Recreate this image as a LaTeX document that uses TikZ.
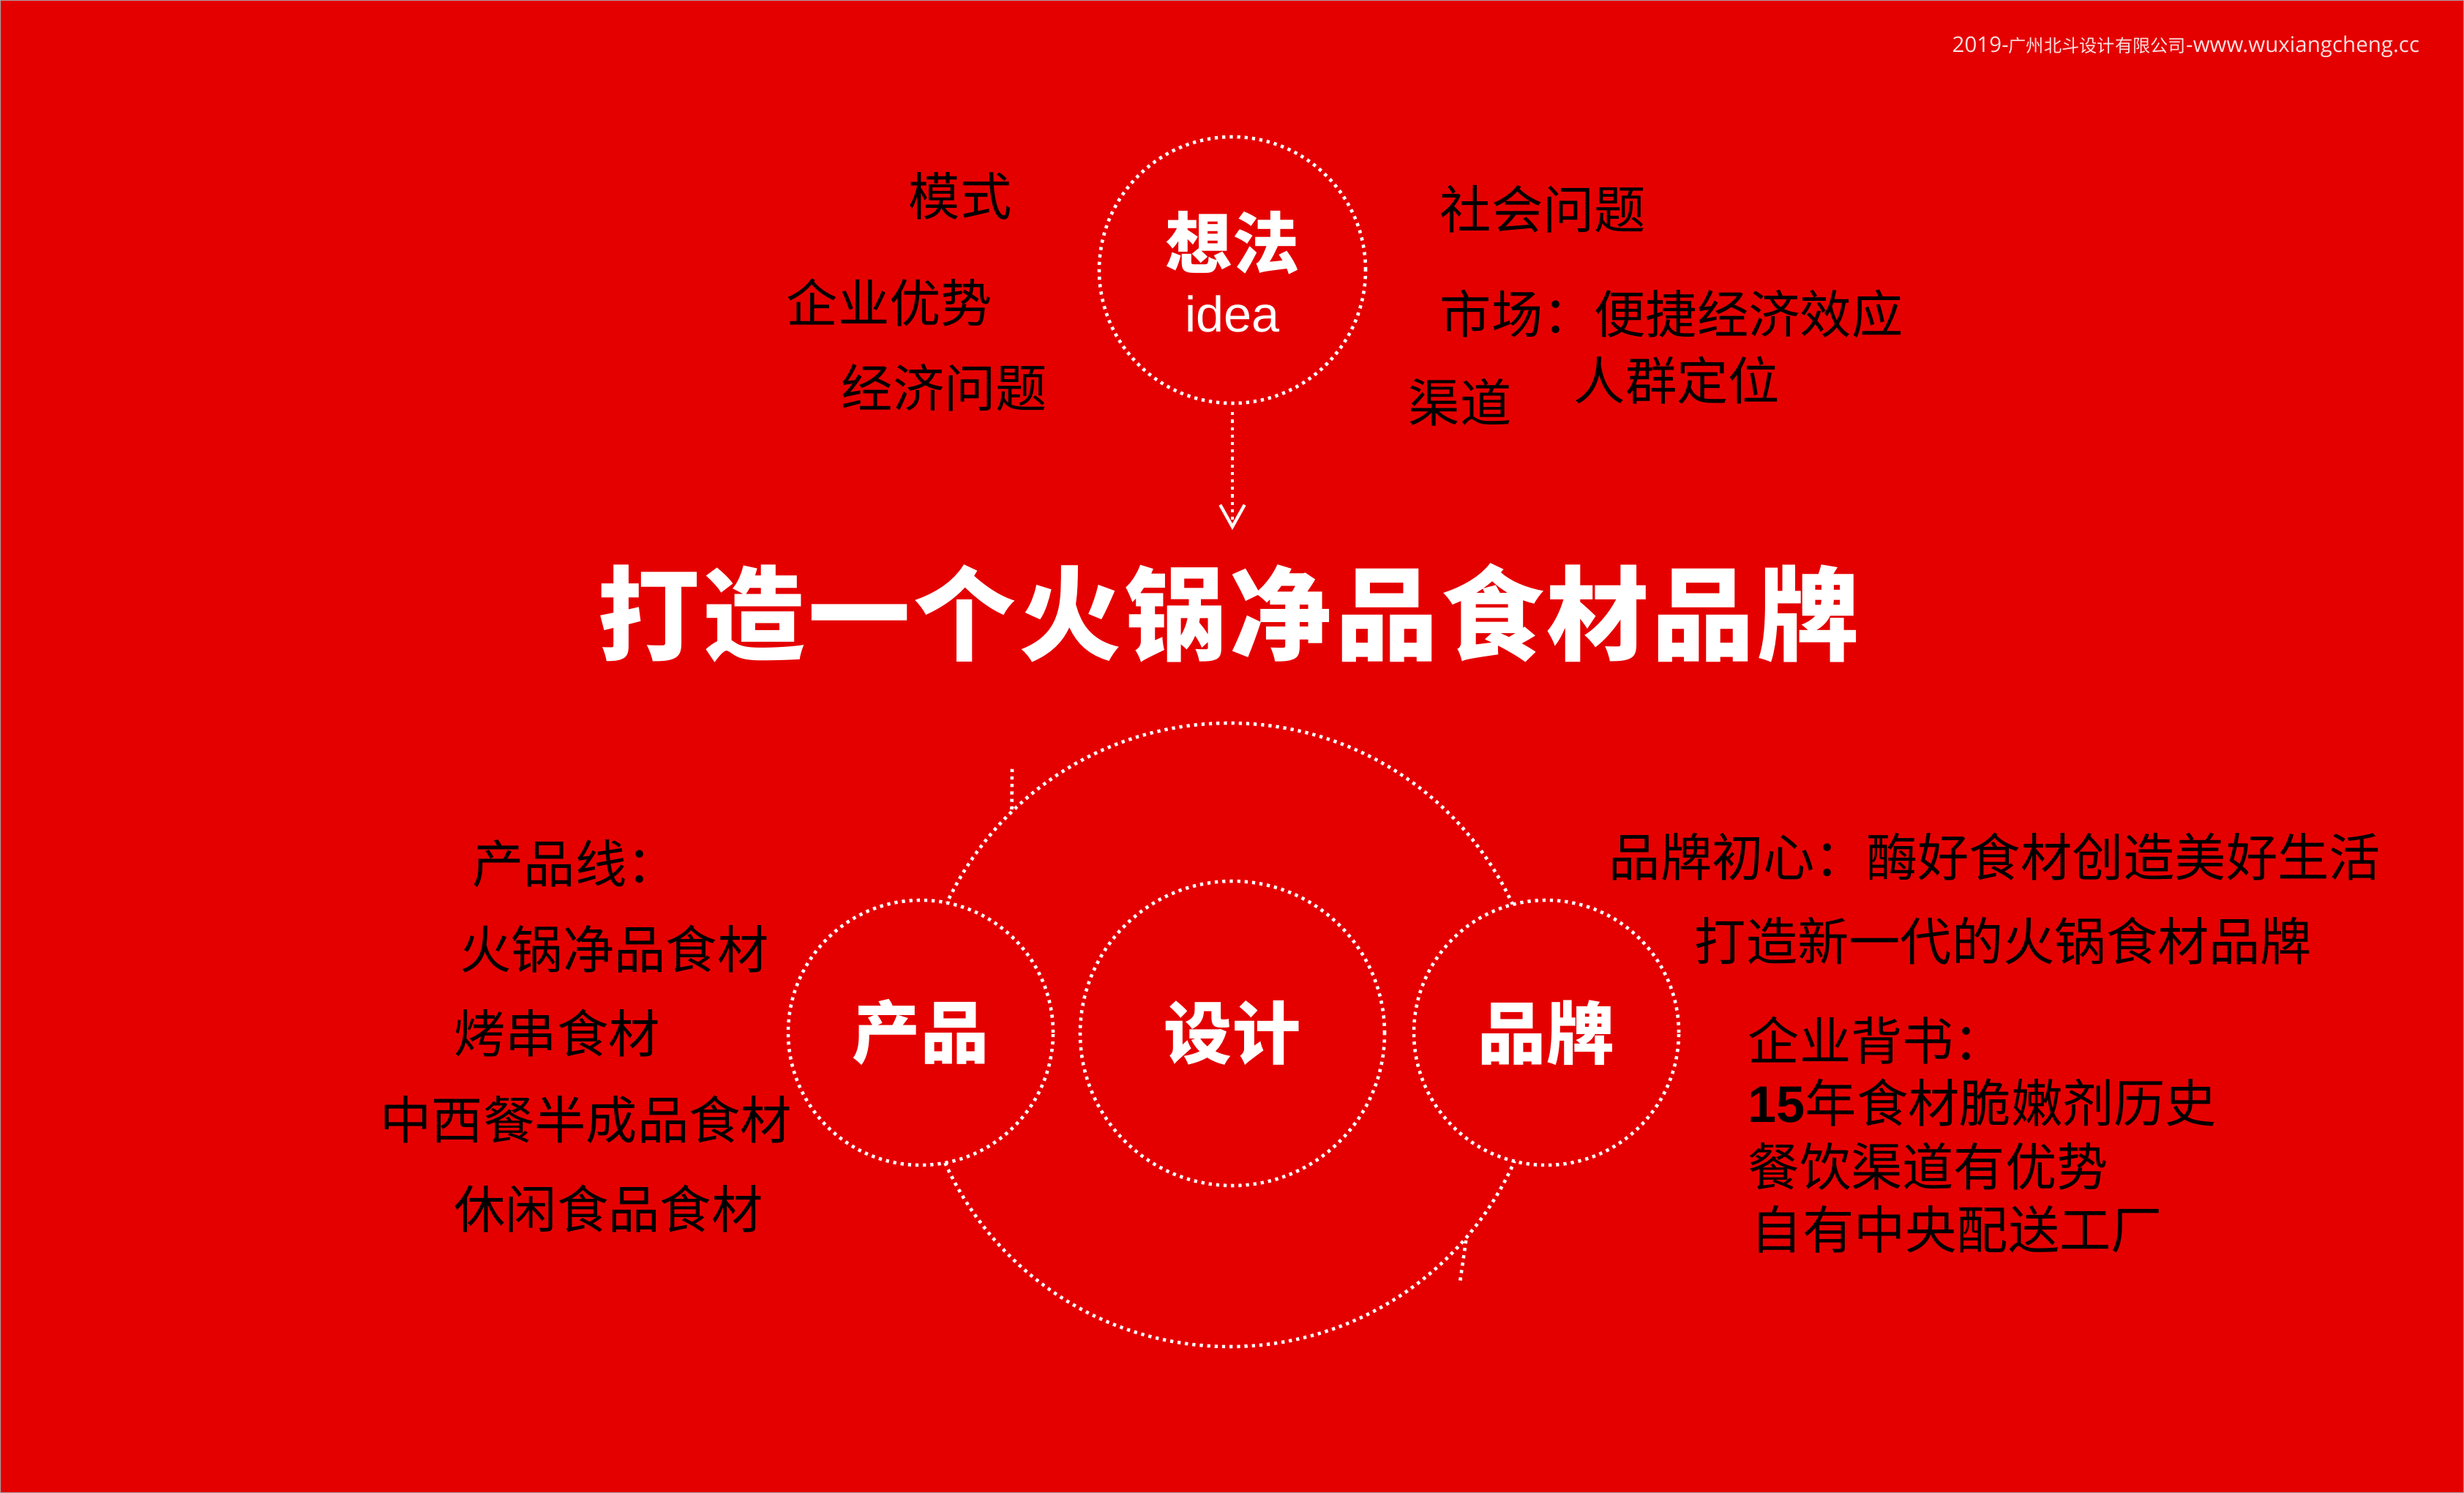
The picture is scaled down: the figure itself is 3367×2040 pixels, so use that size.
\documentclass[tikz,border=0pt]{standalone}
\usepackage{fontspec}
\usepackage{xcolor}
\usepackage{tikz}
\usetikzlibrary{arrows.meta, positioning}
\newfontfamily\cjk{Noto Sans CJK SC}
\newfontfamily\cjktitle[LetterSpace=3]{Noto Sans CJK SC}
\newfontfamily\latin{Liberation Sans}
\newfontfamily\creditlatin{Open Sans}
\definecolor{bgred}{HTML}{E50000}

\tikzset{
  dotline/.style={white, line width=1.3pt, dash pattern=on 1.2pt off 1.7pt},
  ring/.style={circle, draw, dotline, fill=bgred, inner sep=0pt},
  ringtext/.style={text=white, font=\cjk\bfseries\fontsize{26.5}{30}\selectfont},
  note/.style={anchor=west, inner sep=0pt, text=black, font=\cjk\fontsize{20}{24}\selectfont},
}

\begin{document}
\begin{tikzpicture}[x=0.1mm, y=-0.1mm]
\useasboundingbox (0,0) rectangle (3367,2040);
\fill[bgred, draw=gray!70, line width=0.6pt] (0,0) rectangle (3367,2040);
\node[anchor=west, inner sep=0pt, text=white!88!bgred, font=\cjk\fontsize{6.9}{8}\selectfont]
  (credit) at (2667,64) {{\creditlatin\fontsize{8.4}{9}\selectfont 2019-}广州北斗设计有限公司{\creditlatin\fontsize{8.4}{9}\selectfont -www.wuxiangcheng.cc}};

% idea circle and arrow
\node[ring, minimum size=36.4mm] (idea) at (1684,369) {};
\node[text=white, font=\cjk\bfseries\fontsize{26}{30}\selectfont] (ideaCn) at (1684,332) {想法};
\node[text=white, font=\latin\fontsize{19.5}{22}\selectfont] (ideaEn) at (1684,429) {idea};
\coordinate (arrowTip) at (1684,724);
\draw[dotline, shorten <=1mm, -{Straight Barb[length=8.5pt, width=9.5pt, line width=1.2pt]}]
  (idea) -- (arrowTip);

\node[note] (topA) at (1241,268) {模式};
\node[note] (topB) at (1074,414) {企业优势};
\node[note] (topC) at (1149,530) {经济问题};
\node[note] (topD) at (1967,286) {社会问题};
\node[note] (topE) at (1967,429) {市场：便捷经济效应};
\node[note] (topF) at (2150,520) {人群定位};
\node[note] (topG) at (1924,550) {渠道};

\node[text=white, font=\cjktitle\bfseries\fontsize{39.8}{46}\selectfont]
  (title) at (1679,838) {打造一个火锅净品食材品牌};

% design wheel
\node[circle, draw, dotline, minimum size=85.2mm, inner sep=0pt] (wheel) at (1680,1414) {};
\coordinate (tickA) at (1383,1050);
\coordinate (tickB) at (1995,1752);
\draw[dotline] (wheel.134) -- (tickA);
\draw[dotline] (wheel.-41) -- (tickB);
\node[ring, minimum size=36.2mm, ringtext] (product) at (1258,1411) {产品};
\node[ring, minimum size=41.6mm, ringtext] (design) at (1684,1412) {设计};
\node[ring, minimum size=36.2mm, ringtext] (brand) at (2113,1411) {品牌};

% product lines
\node[note] (lineHead) at (645,1180) {产品线：};
\node[note] (lineA) at (628,1297) {火锅净品食材};
\node[note] (lineB) at (620,1412) {烤串食材};
\node[note] (lineC) at (519,1530) {中西餐半成品食材};
\node[note] (lineD) at (620,1652) {休闲食品食材};

% brand notes
\node[note] (brandA) at (2198,1171) {品牌初心：酶好食材创造美好生活};
\node[note] (brandB) at (2315,1286) {打造新一代的火锅食材品牌};
\node[note] (brandC) at (2388,1422) {企业背书：};
\node[note] (brandD) at (2388,1506) {{\latin\bfseries 15}年食材脆嫩剂历史};
\node[note] (brandE) at (2388,1594) {餐饮渠道有优势};
\node[note] (brandF) at (2392,1680) {自有中央配送工厂};
\end{tikzpicture}
\end{document}
